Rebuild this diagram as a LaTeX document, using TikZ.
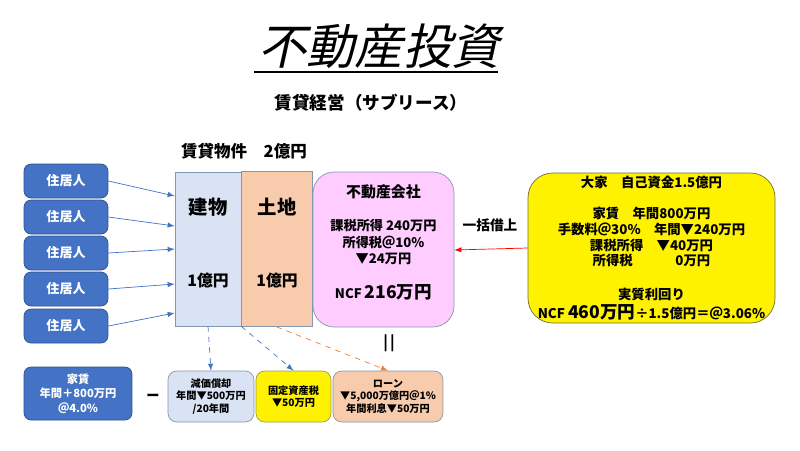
\documentclass[tikz,border=0pt]{standalone}
\usepackage{fontspec}
\setmainfont{Noto Sans CJK JP}
\newfontfamily\titlefont[FakeSlant=0.22]{Noto Sans CJK JP}
\usetikzlibrary{positioning}
\tikzset{>=latex}
\definecolor{resblue}{HTML}{4472C4}
\definecolor{resedge}{HTML}{2F528F}
\definecolor{paleblue}{HTML}{DAE3F3}
\definecolor{grayedge}{HTML}{8497B0}
\definecolor{peach}{HTML}{F8CBAD}
\definecolor{copink}{HTML}{FFCCFF}
\definecolor{ownedge}{HTML}{6E6E3A}
\definecolor{fixedge}{HTML}{9C9C48}
\definecolor{orangeline}{HTML}{ED7D31}
\tikzset{
  resident/.style={draw=resedge, fill=resblue, text=white, rounded corners=4pt,
    minimum width=1.68cm, minimum height=0.68cm, font=\fontsize{7.4}{9}\selectfont\bfseries},
  costbox/.style={draw=grayedge, rounded corners=5pt, minimum height=1.02cm, align=center,
    inner sep=1pt, font=\fontsize{5.8}{7}\selectfont\bfseries},
}

\begin{document}
\begin{tikzpicture}[x=0.02cm, y=-0.02cm, font=\bfseries]
    \fill[white](0, 0)rectangle(800, 450);
    \useasboundingbox(0, 0)rectangle(800, 450);
    % title
    \node[font=\titlefont\fontsize{27.5}{30}\selectfont] (title) at (379, 46) {不動産投資};
    \draw[line width=0.7pt](254, 72)--(498, 72);
    \node[font=\fontsize{10}{12}\selectfont\bfseries] (sub) at (371, 103) {賃貸経営（サブリース）};
    \node[font=\fontsize{9.4}{11}\selectfont\bfseries] (prop) at (244, 151) {賃貸物件　2億円};
    % residents
    \foreach \i/\y in {1/181, 2/217, 3/253, 4/289, 5/326}
        \node[resident] (r\i) at (66, \y) {住居人};
    % building and land
    \node[draw=grayedge, fill=paleblue, minimum width=1.32cm, minimum height=3.08cm] (bldg) at (208, 249) {};
    \node[draw=grayedge, fill=peach, minimum width=1.42cm, minimum height=3.1cm] (land) at (276.5, 249) {};
    \node[font=\fontsize{11}{13}\selectfont\bfseries] (bldgname) at (208, 207) {建物};
    \node[font=\fontsize{9}{11}\selectfont\bfseries] (bldgval) at (208, 280) {1億円};
    \node[font=\fontsize{11}{13}\selectfont\bfseries] (landname) at (277, 207) {土地};
    \node[font=\fontsize{9}{11}\selectfont\bfseries] (landval) at (277, 280) {1億円};
    \foreach \i/\y in {1/196, 2/226, 3/249, 4/284, 5/313}
        \draw[resblue, ->](r\i.east)--(bldg.west |- 0, \y);
    % company
    \node[draw=grayedge, fill=copink, rounded corners=12pt, minimum width=2.82cm, minimum height=3.1cm] (co) at (383.5, 249.5) {};
    \node[font=\fontsize{8.5}{10}\selectfont\bfseries] (coname) at (383.5, 192) {不動産会社};
    \node[align=center, font=\fontsize{7.5}{9.3}\selectfont\bfseries] (cotax) at (383.5, 242) {課税所得 240万円\\所得税＠10\%\\▼24万円};
    \node[font=\fontsize{7.5}{9}\selectfont\bfseries] (concf) at (383.5, 292) {NCF {\fontsize{10}{12}\selectfont 216万円}};
    % owner
    \node[draw=ownedge, fill=yellow, rounded corners=14pt, minimum width=4.94cm, minimum height=3cm] (owner) at (651.5, 248) {};
    \node[font=\fontsize{7.6}{9}\selectfont\bfseries] (ownerhead) at (651.5, 182) {大家　自己資金1.5億円};
    \node[align=center, font=\fontsize{7.6}{9}\selectfont\bfseries] (ownercalc) at (651.5, 237)
        {家賃　年間800万円\\手数料＠30\%　年間▼240万円\\課税所得　▼40万円\\所得税\hspace{3.2em}0万円};
    \node[font=\fontsize{7.6}{9}\selectfont\bfseries] (yieldhead) at (651.5, 294) {実質利回り};
    \node[font=\fontsize{7.6}{9}\selectfont\bfseries] (yieldval) at (651.5, 312)
        {NCF {\fontsize{10}{12}\selectfont 460万円}÷1.5億円＝＠3.06\%};
    \draw[red, ->](owner.west |- 0, 248)--(co.east |- 0, 250);
    \node[font=\fontsize{7.8}{9}\selectfont\bfseries] (lease) at (490, 225) {一括借上};
    \node[font=\fontsize{8.5}{9}\selectfont\bfseries] (eq) at (389, 343) {|\kern1.2pt|};
    % costs
    \node[resident, minimum width=2.16cm, minimum height=1.06cm, align=center, font=\fontsize{6.4}{8.2}\selectfont\bfseries] (rent) at (78, 393.5) {家賃\\年間＋800万円\\＠4.0\%};
    \node[font=\fontsize{7.5}{9}\selectfont\bfseries] (minus) at (153, 397) {ー};
    \node[costbox, fill=paleblue, minimum width=1.72cm] (dep) at (211, 396.5) {減価償却\\年間▼500万円\\/20年間};
    \node[costbox, draw=fixedge, fill=yellow, minimum width=1.5cm] (fixtax) at (293.5, 396.5) {固定資産税\\▼50万円};
    \node[costbox, fill=peach, minimum width=2.2cm] (loan) at (388, 396.5) {ローン\\▼5,000万億円＠1\%\\年間利息▼50万円};
    \draw[resblue, dashed, ->](bldg.south)--(dep.north);
    \draw[resblue, dashed, ->](bldg.south east)--(fixtax.north);
    \draw[orangeline, dashed, ->](land.south)--(loan.north);
\end{tikzpicture}
\end{document}
